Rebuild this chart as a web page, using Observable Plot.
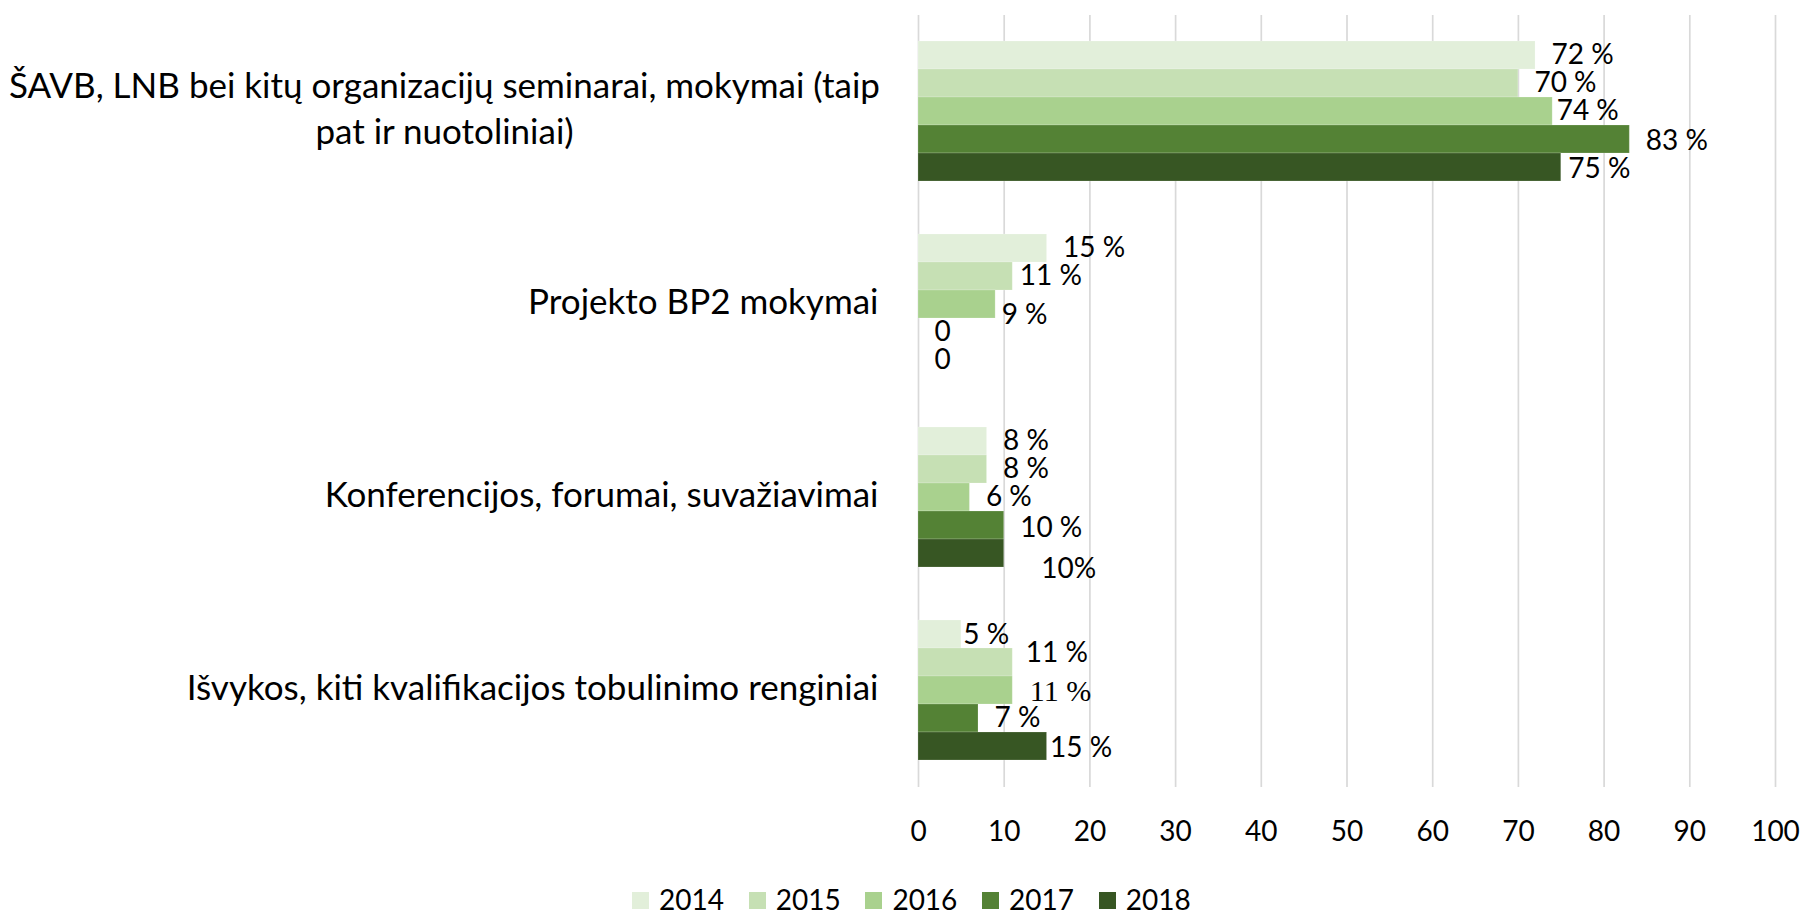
<!DOCTYPE html>
<html>
<head>
<meta charset="utf-8">
<script src="https://cdn.jsdelivr.net/npm/d3@7"></script>
<script src="https://cdn.jsdelivr.net/npm/@observablehq/plot@0.6"></script>
<style>
  html, body { margin: 0; padding: 0; background: #fff; }
  body { width: 1800px; height: 910px; overflow: hidden; font-family: Lato, "Open Sans", sans-serif; }
  #legend { position: relative; height: 50px; }
  .item { position: absolute; top: 29px; height: 20px; line-height: 20px; display: flex; align-items: center; font-size: 28px; color: #000; white-space: nowrap; }
  .sw { width: 17px; height: 17px; margin-right: 10px; flex: none; position: relative; top: 1.5px; }
</style>
</head>
<body>
<div id="chart"></div>
<div id="legend"></div>
<script>
// ---- data ----
const categories = [
  "ŠAVB, LNB bei kitų organizacijų seminarai, mokymai (taip\npat ir nuotoliniai)",
  "Projekto BP2 mokymai",
  "Konferencijos, forumai, suvažiavimai",
  "Išvykos, kiti kvalifikacijos tobulinimo renginiai"
];
const years = ["2014", "2015", "2016", "2017", "2018"];
const values2014 = [72, 15, 8, 5];
const values2015 = [70, 11, 8, 11];
const values2016 = [74, 9, 6, 11];
const values2017 = [83, 0, 10, 7];
const values2018 = [75, 0, 10, 15];
const labels2014 = ["72 %", "15 %", "8 %", "5 %"];
const labels2015 = ["70 %", "11 %", "8 %", "11 %"];
const labels2016 = ["74 %", "9 %", "6 %", "11 %"];
const labels2017 = ["83 %", "0", "10 %", "7 %"];
const labels2018 = ["75 %", "0", "10%", "15 %"];
const xTicks = [0, 10, 20, 30, 40, 50, 60, 70, 80, 90, 100];
const colors = ["#e2efda", "#c6e0b4", "#a9d18e", "#548235", "#375623"];

// ---- table built from the arrays ----
const valueSets = [values2014, values2015, values2016, values2017, values2018];
const labelSets = [labels2014, labels2015, labels2016, labels2017, labels2018];
const rows = [];
categories.forEach((c, ci) => {
  years.forEach((y, yi) => {
    rows.push({category: c, year: y, value: valueSets[yi][ci], label: labelSets[yi][ci], ci, yi});
  });
});

// label nudges (style only), keyed "categoryIndex-yearIndex": [dx, dy]
const nudge = {
  "0-2": [-12, 0], "0-4": [-9, 2], "0-3": [0, 2],
  "1-1": [-9, 0], "1-2": [-10, 11],
  "2-3": [0, 3], "2-4": [21, 16],
  "3-0": [-14, 1], "3-1": [-3, -9], "3-4": [-13, 2]
};
const baseDx = 16;
const isSerif = d => d.ci === 3 && d.yi === 2;

const textRows = rows.filter(d => !isSerif(d));
const serifRows = rows.filter(isSerif);

const labelMarks = [];
const groups = d3.group(textRows, d => (nudge[`${d.ci}-${d.yi}`] || [0, 0]).join(","));
for (const [key, grp] of groups) {
  const [ndx, ndy] = key.split(",").map(Number);
  labelMarks.push(Plot.text(grp, {
    fy: "category", y: "year", x: "value", text: "label",
    textAnchor: "start", dx: baseDx + ndx, dy: ndy, fill: "#000"
  }));
}
labelMarks.push(Plot.text(serifRows, {
  fy: "category", y: "year", x: "value", text: "label",
  textAnchor: "start", dx: baseDx + 1, dy: 1, fill: "#000",
  fontFamily: "Liberation Serif", fontSize: 30
}));

const multi = categories.filter(c => c.includes("\n"));
const single = categories.filter(c => !c.includes("\n"));

const chart = Plot.plot({
  width: 1800,
  height: 860,
  marginLeft: 918,
  marginRight: 25,
  marginTop: 14,
  marginBottom: 73,
  style: {fontFamily: "Lato, 'Open Sans', sans-serif", fontSize: "28px", color: "#000", background: "#fff", overflow: "visible"},
  x: {domain: [0, 100]},
  fy: {domain: categories, padding: 0, axis: null},
  y: {domain: years, paddingInner: 0, paddingOuter: 0.92, align: 0.485, axis: null},
  color: {domain: years, range: colors},
  marks: [
    Plot.gridX(xTicks, {stroke: "#d9d9d9", strokeOpacity: 1, strokeWidth: 1.7}),
    Plot.barX(rows, {fy: "category", y: "year", x: "value", fill: "year", stroke: "#ffffff", strokeOpacity: 0.18, strokeWidth: 1}),
    ...labelMarks,
    Plot.text(single, {fy: d => d, text: d => d, frameAnchor: "left", textAnchor: "end", dx: -40, dy: -2, fill: "#000", fontSize: 35}),
    Plot.text(multi, {fy: d => d, text: d => d, frameAnchor: "left", textAnchor: "middle", dx: -474, dy: -6, lineHeight: 1.31, fill: "#000", fontSize: 35}),
    Plot.axisX({ticks: xTicks, tickSize: 0, tickPadding: 34, label: null, fill: "#000"})
  ]
});
document.getElementById("chart").appendChild(chart);

// ---- legend ----
const legend = document.getElementById("legend");
const legendLeft = 632, legendStep = 116.7;
years.forEach((y, i) => {
  const item = document.createElement("div");
  item.className = "item";
  item.style.left = (legendLeft + i * legendStep) + "px";
  const sw = document.createElement("span");
  sw.className = "sw";
  sw.style.background = colors[i];
  const t = document.createElement("span");
  t.textContent = y;
  item.appendChild(sw);
  item.appendChild(t);
  legend.appendChild(item);
});
</script>
</body>
</html>
